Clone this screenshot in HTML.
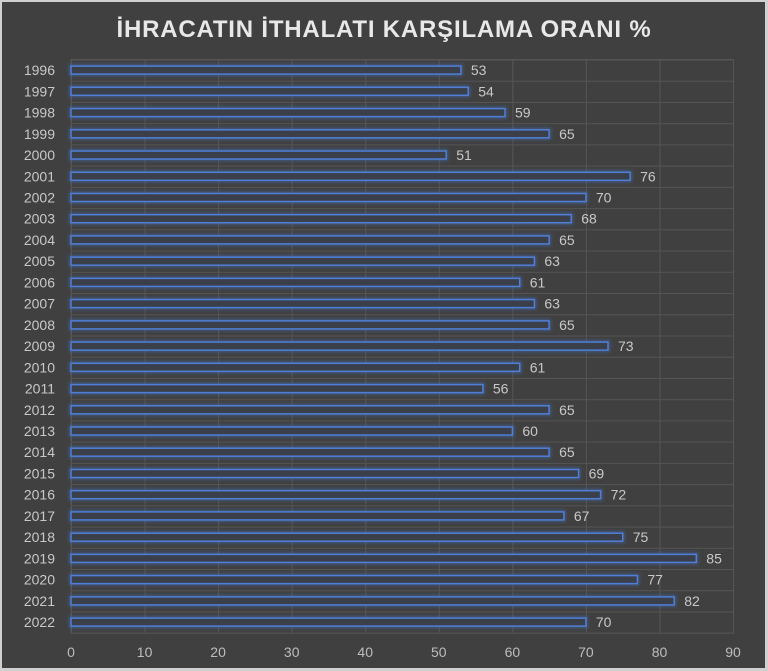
<!DOCTYPE html><html><head><style>body{margin:0;background:#fff}svg{display:block}</style></head><body>
<svg width="768" height="671" xmlns="http://www.w3.org/2000/svg" font-family="Liberation Sans, sans-serif">
<defs>
<filter id="g" x="-5%" y="-100%" width="110%" height="300%"><feGaussianBlur stdDeviation="1.5"/></filter>
<pattern id="p" patternUnits="userSpaceOnUse" x="71" y="59.5" width="73.56" height="21.23">
<line x1="0.5" y1="0" x2="0.5" y2="21.23" stroke="#555" stroke-width="1"/>
<line x1="0" y1="0.5" x2="73.56" y2="0.5" stroke="#555" stroke-width="1"/>
</pattern>
</defs>
<rect x="0" y="0" width="768" height="671" fill="#d0d0d0"/>
<rect x="2" y="2" width="763" height="666" fill="#404040"/>
<text x="384" y="37" text-anchor="middle" fill="#e8e8e8" font-size="24" font-weight="bold" letter-spacing="0.8">İHRACATIN İTHALATI KARŞILAMA ORANI %</text>
<rect x="71" y="59.5" width="662.5" height="573.7" fill="url(#p)" stroke="#555" stroke-width="1"/>
<g fill="#bdbdbd" font-size="14" text-anchor="middle">
<text x="71" y="657">0</text><text x="144.6" y="657">10</text><text x="218.1" y="657">20</text><text x="291.7" y="657">30</text><text x="365.2" y="657">40</text><text x="438.8" y="657">50</text><text x="512.4" y="657">60</text><text x="585.9" y="657">70</text><text x="659.5" y="657">80</text><text x="733" y="657">90</text>
</g>
<g fill="#c8c8c8" font-size="14" text-anchor="end">
<text x="55" y="75.1">1996</text><text x="55" y="96.3">1997</text><text x="55" y="117.6">1998</text><text x="55" y="138.8">1999</text><text x="55" y="160">2000</text><text x="55" y="181.3">2001</text><text x="55" y="202.5">2002</text><text x="55" y="223.7">2003</text><text x="55" y="244.9">2004</text><text x="55" y="266.2">2005</text><text x="55" y="287.4">2006</text><text x="55" y="308.6">2007</text><text x="55" y="329.9">2008</text><text x="55" y="351.1">2009</text><text x="55" y="372.3">2010</text><text x="55" y="393.6">2011</text><text x="55" y="414.8">2012</text><text x="55" y="436">2013</text><text x="55" y="457.2">2014</text><text x="55" y="478.5">2015</text><text x="55" y="499.7">2016</text><text x="55" y="520.9">2017</text><text x="55" y="542.2">2018</text><text x="55" y="563.4">2019</text><text x="55" y="584.6">2020</text><text x="55" y="605.9">2021</text><text x="55" y="627.1">2022</text>
</g>
<g stroke="#4472c4" stroke-width="4" fill="none" opacity="0.5" filter="url(#g)">
<rect x="71" y="66.1" width="389.9" height="8"/><rect x="71" y="87.3" width="397.2" height="8"/><rect x="71" y="108.6" width="434" height="8"/><rect x="71" y="129.8" width="478.1" height="8"/><rect x="71" y="151" width="375.2" height="8"/><rect x="71" y="172.3" width="559.1" height="8"/><rect x="71" y="193.5" width="514.9" height="8"/><rect x="71" y="214.7" width="500.2" height="8"/><rect x="71" y="235.9" width="478.1" height="8"/><rect x="71" y="257.2" width="463.4" height="8"/><rect x="71" y="278.4" width="448.7" height="8"/><rect x="71" y="299.6" width="463.4" height="8"/><rect x="71" y="320.9" width="478.1" height="8"/><rect x="71" y="342.1" width="537" height="8"/><rect x="71" y="363.3" width="448.7" height="8"/><rect x="71" y="384.6" width="411.9" height="8"/><rect x="71" y="405.8" width="478.1" height="8"/><rect x="71" y="427" width="441.4" height="8"/><rect x="71" y="448.2" width="478.1" height="8"/><rect x="71" y="469.5" width="507.6" height="8"/><rect x="71" y="490.7" width="529.6" height="8"/><rect x="71" y="511.9" width="492.9" height="8"/><rect x="71" y="533.2" width="551.7" height="8"/><rect x="71" y="554.4" width="625.3" height="8"/><rect x="71" y="575.6" width="566.4" height="8"/><rect x="71" y="596.9" width="603.2" height="8"/><rect x="71" y="618.1" width="514.9" height="8"/>
</g>
<g stroke="#4f7fd6" stroke-width="1.5" fill="#3a3f4a">
<rect x="71" y="66.1" width="389.9" height="8"/><rect x="71" y="87.3" width="397.2" height="8"/><rect x="71" y="108.6" width="434" height="8"/><rect x="71" y="129.8" width="478.1" height="8"/><rect x="71" y="151" width="375.2" height="8"/><rect x="71" y="172.3" width="559.1" height="8"/><rect x="71" y="193.5" width="514.9" height="8"/><rect x="71" y="214.7" width="500.2" height="8"/><rect x="71" y="235.9" width="478.1" height="8"/><rect x="71" y="257.2" width="463.4" height="8"/><rect x="71" y="278.4" width="448.7" height="8"/><rect x="71" y="299.6" width="463.4" height="8"/><rect x="71" y="320.9" width="478.1" height="8"/><rect x="71" y="342.1" width="537" height="8"/><rect x="71" y="363.3" width="448.7" height="8"/><rect x="71" y="384.6" width="411.9" height="8"/><rect x="71" y="405.8" width="478.1" height="8"/><rect x="71" y="427" width="441.4" height="8"/><rect x="71" y="448.2" width="478.1" height="8"/><rect x="71" y="469.5" width="507.6" height="8"/><rect x="71" y="490.7" width="529.6" height="8"/><rect x="71" y="511.9" width="492.9" height="8"/><rect x="71" y="533.2" width="551.7" height="8"/><rect x="71" y="554.4" width="625.3" height="8"/><rect x="71" y="575.6" width="566.4" height="8"/><rect x="71" y="596.9" width="603.2" height="8"/><rect x="71" y="618.1" width="514.9" height="8"/>
</g>
<g fill="#c8c8c8" font-size="14">
<text x="470.9" y="75.1">53</text><text x="478.2" y="96.3">54</text><text x="515" y="117.6">59</text><text x="559.1" y="138.8">65</text><text x="456.2" y="160">51</text><text x="640.1" y="181.3">76</text><text x="595.9" y="202.5">70</text><text x="581.2" y="223.7">68</text><text x="559.1" y="244.9">65</text><text x="544.4" y="266.2">63</text><text x="529.7" y="287.4">61</text><text x="544.4" y="308.6">63</text><text x="559.1" y="329.9">65</text><text x="618" y="351.1">73</text><text x="529.7" y="372.3">61</text><text x="492.9" y="393.6">56</text><text x="559.1" y="414.8">65</text><text x="522.4" y="436">60</text><text x="559.1" y="457.2">65</text><text x="588.6" y="478.5">69</text><text x="610.6" y="499.7">72</text><text x="573.9" y="520.9">67</text><text x="632.7" y="542.2">75</text><text x="706.3" y="563.4">85</text><text x="647.4" y="584.6">77</text><text x="684.2" y="605.9">82</text><text x="595.9" y="627.1">70</text>
</g>
</svg></body></html>
